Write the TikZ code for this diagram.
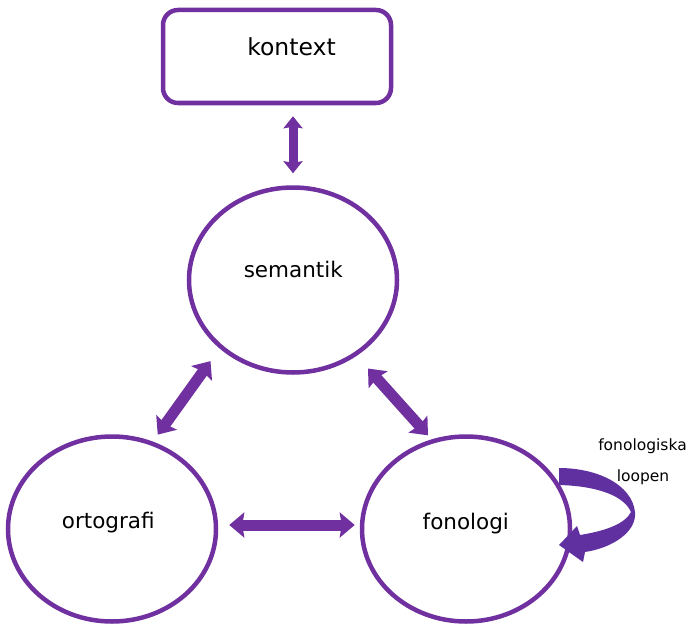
\documentclass[tikz,border=0pt]{standalone}
\usepackage{fontspec}
\setmainfont{DejaVu Sans}
\usetikzlibrary{arrows.meta,shapes.geometric}
\definecolor{violet}{HTML}{7030A0}
\definecolor{loopviolet}{HTML}{6130A0}
\tikzset{
  ring/.style={ellipse,draw=violet,line width=4.5pt,inner sep=0pt,
    minimum width=208pt,minimum height=185pt},
  framebox/.style={rectangle,draw=violet,line width=4.5pt,rounded corners=15pt,
    minimum width=228pt,minimum height=93pt,inner sep=0pt},
  bigtext/.style={anchor=base,font=\fontsize{21.5}{26}\selectfont,text=black},
  smalltext/.style={anchor=base,font=\fontsize{15.5}{19}\selectfont,text=black},
  twoway/.style={draw=violet,line width=11pt,
    {Stealth[inset=2pt,width=25pt,length=15pt]}-{Stealth[inset=2pt,width=25pt,length=15pt]}},
  slimtwoway/.style={draw=violet,line width=9pt,
    {Stealth[inset=1.5pt,width=19pt,length=12pt]}-{Stealth[inset=1.5pt,width=19pt,length=12pt]}}
}
\begin{document}
\begin{tikzpicture}[x=1pt,y=-1pt]
\useasboundingbox (0,0) rectangle (692,623);

% boxes and rings
\node[framebox] (kontext) at (277,56.5) {};
\node[ring] (sem) at (293,280) {};
\node[ring] (orto) at (112,529) {};
\node[ring] (fono) at (466,529) {};

% labels
\node[bigtext,font=\fontsize{23.5}{28}\selectfont] (kontextlbl) at (291.5,56) {kontext};
\node[bigtext] (semlbl) at (293.3,277.3) {semantik};
\node[bigtext] (ortolbl) at (108.3,528.3) {ortografi};
\node[bigtext] (fonolbl) at (465.8,529.3) {fonologi};
\node[smalltext] (looplbl1) at (642.5,450.7) {fonologiska};
\node[smalltext] (looplbl2) at (643,481.7) {loopen};

% double-headed connectors
\draw[slimtwoway,shorten <=12pt,shorten >=11pt] (sem.north) -- (sem.north |- kontext.south);
\draw[twoway,shorten <=15.6pt,shorten >=8.5pt] (sem.223) -- (orto.65);
\draw[twoway,shorten <=17pt,shorten >=5.4pt] (sem.310.3) -- (fono.111.7);
\draw[twoway,shorten <=11pt,shorten >=5pt] ([yshift=4pt]orto.east) -- ([yshift=4pt]fono.west);

% the phonological loop
\fill[loopviolet]
  (559,468) .. controls (598,468) and (632,485) .. (635,512)
  .. controls (637,532) and (612,548) .. (585,552)
  -- (583,562) -- (559,545) -- (577,526) -- (580,535)
  .. controls (605,531) and (625,524) .. (631,512)
  .. controls (624,496) and (598,486) .. (559,485) -- cycle;
\end{tikzpicture}
\end{document}
